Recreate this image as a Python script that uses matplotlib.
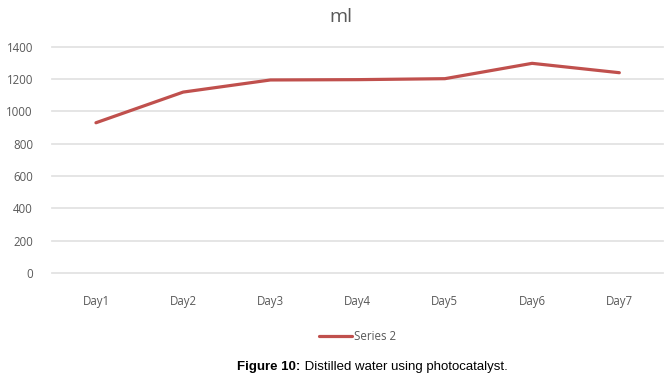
import matplotlib
matplotlib.use("Agg")
import matplotlib.pyplot as plt

days = ["Day1", "Day2", "Day3", "Day4", "Day5", "Day6", "Day7"]
series2 = [930, 1120, 1195, 1197, 1203, 1298, 1240]
yticks = [0, 200, 400, 600, 800, 1000, 1200, 1400]

grey = "#595959"
red = "#C0504D"

fig = plt.figure(figsize=(6.71, 3.78), dpi=100)
ax = fig.add_axes([0.078, 0.278, 0.910, 0.598])

x = range(len(days))
ax.plot(x, series2, color=red, linewidth=2.3, label="Series 2", solid_capstyle="round")

ax.set_xlim(-0.5, len(days) - 0.5)
ax.set_ylim(0, 1400)
ax.set_yticks(yticks)
ax.set_xticks(list(x))
ax.set_xticklabels(days)
ax.grid(axis="y", color="#E3E3E3", linewidth=1.3)
for gl in ax.get_ygridlines():
    gl.set_clip_on(False)
ax.set_axisbelow(True)
for s in ax.spines.values():
    s.set_visible(False)
ax.tick_params(length=0, colors=grey, labelsize=8.3)
ax.tick_params(axis="x", pad=16)
ax.tick_params(axis="y", pad=14)
for lbl in ax.get_xticklabels() + ax.get_yticklabels():
    lbl.set_family("Open Sans")

fig.text(0.508, 0.955, "ml", ha="center", va="center", fontsize=14,
         color=grey, family="Open Sans")

ax.legend(loc="center", bbox_to_anchor=(0.5, -0.28), frameon=False,
          prop={"family": "Open Sans", "size": 8.3}, labelcolor=grey,
          handlelength=2.8, handletextpad=0.2)

# caption: bold part + normal part
fig.canvas.draw()
r = fig.canvas.get_renderer()
t1 = fig.text(0, 0, "Figure 10:", fontsize=9.5, fontweight="bold", family="Liberation Sans")
t2 = fig.text(0, 0, " Distilled water using photocatalyst.", fontsize=9.5, family="Liberation Sans")
w1 = t1.get_window_extent(r).width / fig.bbox.width
w2 = t2.get_window_extent(r).width / fig.bbox.width
x0 = 0.555 - (w1 + w2) / 2
t1.set_position((x0, 0.02))
t2.set_position((x0 + w1, 0.02))

fig.savefig("out.png", dpi=100)
